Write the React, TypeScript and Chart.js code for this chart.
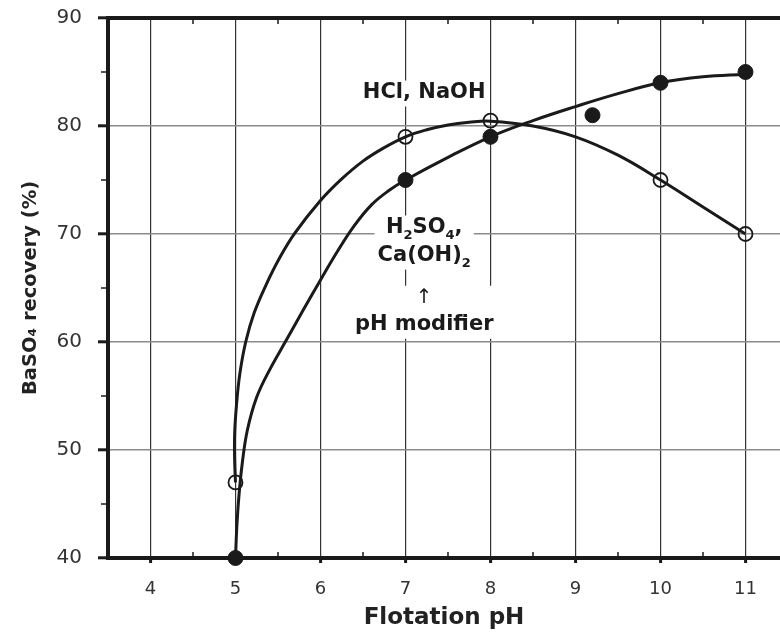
import React, { useEffect, useRef } from 'react';
import { Chart, registerables } from 'chart.js';

Chart.register(...registerables);

// ---- data ----
const xTickValues = [4, 5, 6, 7, 8, 9, 10, 11];
const yTickValues = [40, 50, 60, 70, 80, 90];
const xMinorTicks = [4.5, 5.5, 6.5, 7.5, 8.5, 9.5, 10.5];
const yMinorTicks = [45, 55, 65, 75, 85];

// HCl, NaOH (open circles)
const hclPh = [5, 7, 8, 10, 11];
const hclRecovery = [47, 79, 80.5, 75, 70];
// H2SO4, Ca(OH)2 (filled circles)
const h2so4Ph = [5, 7, 8, 9.2, 10, 11];
const h2so4Recovery = [40, 75, 79, 81, 84, 85];

// hand-drawn fitted curves
const hclCurvePh = [5.0, 4.99, 4.99, 5.01, 5.05, 5.12, 5.22, 5.36, 5.52, 5.7, 6.0, 6.25, 6.5, 6.75, 7.0, 7.25, 7.5, 7.75, 8.0, 8.5, 9.0, 9.5, 10.0, 10.5, 11.0];
const hclCurveRecovery = [47.0, 49.0, 51.5, 54.0, 57.0, 60.0, 62.7, 65.3, 67.8, 70.1, 73.1, 75.1, 76.75, 78.0, 79.0, 79.65, 80.1, 80.35, 80.45, 80.0, 79.0, 77.3, 75.0, 72.5, 70.0];
const h2so4CurvePh = [5.0, 5.015, 5.04, 5.08, 5.14, 5.25, 5.4, 5.6, 5.8, 6.0, 6.2, 6.4, 6.6, 6.8, 7.0, 7.5, 8.0, 8.5, 9.0, 9.5, 10.0, 10.5, 11.0];
const h2so4CurveRecovery = [40.0, 42.8, 45.7, 48.8, 51.85, 54.9, 57.4, 60.2, 63.0, 65.74, 68.4, 70.8, 72.7, 74.0, 75.0, 77.1, 79.0, 80.5, 81.8, 83.0, 84.0, 84.55, 84.8];

const xLabel = 'Flotation pH';
const yLabel = 'BaSO\u2084 recovery (%)';

const FONT = '"DejaVu Sans", "Liberation Sans", Arial, sans-serif';
const INK = '#1a1a1a';

const pts = (xs: number[], ys: number[]) => xs.map((x, i) => ({ x, y: ys[i] }));

type Seg = { t: string; sub?: boolean };

function fontsFor(size: number, bold: boolean) {
  return {
    main: `${bold ? 'bold ' : ''}${size}px ${FONT}`,
    small: `${bold ? 'bold ' : ''}${Math.round(size * 0.6)}px ${FONT}`,
  };
}

function richWidth(ctx: CanvasRenderingContext2D, segs: Seg[], size: number, bold: boolean) {
  const f = fontsFor(size, bold);
  let w = 0;
  for (const s of segs) {
    ctx.font = s.sub ? f.small : f.main;
    w += ctx.measureText(s.t).width;
  }
  return w;
}

function drawRich(ctx: CanvasRenderingContext2D, segs: Seg[], cx: number, cy: number, size: number, bold: boolean) {
  const f = fontsFor(size, bold);
  const w = richWidth(ctx, segs, size, bold);
  let x = cx - w / 2;
  ctx.textBaseline = 'middle';
  ctx.textAlign = 'left';
  for (const s of segs) {
    ctx.font = s.sub ? f.small : f.main;
    ctx.fillText(s.t, x, s.sub ? cy + size * 0.4 : cy);
    x += ctx.measureText(s.t).width;
  }
}

const decorPlugin = {
  id: 'decor',
  beforeDatasetsDraw(chart: any) {
    const { ctx, chartArea, scales } = chart;
    const xs = scales.x;
    const ys = scales.y;
    ctx.save();

    // top frame line
    ctx.strokeStyle = INK;
    ctx.lineWidth = 4;
    ctx.beginPath();
    ctx.moveTo(chartArea.left, chartArea.top);
    ctx.lineTo(chartArea.right, chartArea.top);
    ctx.stroke();

    // minor ticks
    ctx.lineWidth = 1.5;
    for (const v of xMinorTicks) {
      const px = xs.getPixelForValue(v);
      ctx.beginPath();
      ctx.moveTo(px, chartArea.bottom);
      ctx.lineTo(px, chartArea.bottom - 6);
      ctx.moveTo(px, chartArea.top);
      ctx.lineTo(px, chartArea.top + 6);
      ctx.stroke();
    }
    for (const v of yMinorTicks) {
      const py = ys.getPixelForValue(v);
      ctx.beginPath();
      ctx.moveTo(chartArea.left - 2, py);
      ctx.lineTo(chartArea.left - 7, py);
      ctx.stroke();
    }

    // annotations with white backing
    const cx = xs.getPixelForValue(7.22);
    const groups: { lines: { segs: Seg[]; y: number; bold: boolean; size: number }[] }[] = [
      { lines: [{ segs: [{ t: 'HCl, NaOH' }], y: 83.1, bold: true, size: 21 }] },
      {
        lines: [
          { segs: [{ t: 'H' }, { t: '2', sub: true }, { t: 'SO' }, { t: '4', sub: true }, { t: ',' }], y: 70.6, bold: true, size: 21 },
          { segs: [{ t: 'Ca(OH)' }, { t: '2', sub: true }], y: 68.0, bold: true, size: 21 },
        ],
      },
      {
        lines: [
          { segs: [{ t: '\u2191' }], y: 64.1, bold: false, size: 20 },
          { segs: [{ t: 'pH modifier' }], y: 61.6, bold: true, size: 21 },
        ],
      },
    ];

    for (const g of groups) {
      let maxW = 0;
      for (const l of g.lines) maxW = Math.max(maxW, richWidth(ctx, l.segs, l.size, l.bold));
      const top = ys.getPixelForValue(g.lines[0].y) - 12;
      const bottom = ys.getPixelForValue(g.lines[g.lines.length - 1].y) + 14;
      ctx.fillStyle = '#ffffff';
      ctx.fillRect(cx - maxW / 2 - 3, top, maxW + 6, bottom - top);
      ctx.fillStyle = INK;
      for (const l of g.lines) {
        drawRich(ctx, l.segs, cx, ys.getPixelForValue(l.y), l.size, l.bold);
      }
    }
    ctx.restore();
  },
};

export default function App() {
  const canvasRef = useRef<HTMLCanvasElement | null>(null);

  useEffect(() => {
    const canvas = canvasRef.current;
    if (!canvas) return;
    const chart = new Chart(canvas, {
      type: 'scatter',
      data: {
        datasets: [
          {
            label: 'HCl, NaOH',
            data: pts(hclPh, hclRecovery),
            pointStyle: 'circle',
            pointRadius: 7,
            pointBorderWidth: 1.8,
            pointBackgroundColor: 'rgba(0,0,0,0)',
            pointBorderColor: INK,
            showLine: false,
            clip: false,
          } as any,
          {
            label: 'H2SO4, Ca(OH)2',
            data: pts(h2so4Ph, h2so4Recovery),
            pointStyle: 'circle',
            pointRadius: 7.5,
            pointBorderWidth: 1,
            pointBackgroundColor: INK,
            pointBorderColor: INK,
            showLine: false,
            clip: false,
          } as any,
          {
            label: 'HCl curve',
            data: pts(hclCurvePh, hclCurveRecovery),
            showLine: true,
            pointRadius: 0,
            borderColor: INK,
            borderWidth: 3,
            tension: 0.4,
            fill: false,
          } as any,
          {
            label: 'H2SO4 curve',
            data: pts(h2so4CurvePh, h2so4CurveRecovery),
            showLine: true,
            pointRadius: 0,
            borderColor: INK,
            borderWidth: 3,
            tension: 0.4,
            fill: false,
          } as any,
        ],
      },
      options: {
        animation: false,
        responsive: false,
        devicePixelRatio: 1,
        layout: { autoPadding: false, padding: { top: 18, left: 0, right: 0, bottom: 0 } },
        plugins: {
          legend: { display: false },
          tooltip: { enabled: false },
        },
        scales: {
          x: {
            type: 'linear',
            min: 3.5,
            max: 11.406,
            afterBuildTicks: (s: any) => {
              s.ticks = xTickValues.map((v) => ({ value: v }));
            },
            afterFit: (s: any) => {
              s.height = 74;
              s.paddingLeft = 0;
              s.paddingRight = 0;
            },
            grid: {
              color: '#333',
              lineWidth: 1.2,
              tickColor: INK,
              tickLength: 5,
              tickWidth: 3,
            },
            border: { display: true, color: INK, width: 4 },
            ticks: {
              color: '#333',
              font: { family: FONT, size: 18 },
              padding: 16,
              maxRotation: 0,
              autoSkip: false,
            },
            title: {
              display: true,
              text: xLabel,
              color: '#222',
              font: { family: FONT, size: 23, weight: 'bold' },
              padding: { top: 0, bottom: 0 },
            },
          },
          y: {
            type: 'linear',
            min: 40,
            max: 90,
            afterBuildTicks: (s: any) => {
              s.ticks = yTickValues.map((v) => ({ value: v }));
            },
            afterFit: (s: any) => {
              s.width = 108;
              s.paddingTop = 0;
              s.paddingBottom = 0;
            },
            grid: {
              color: (c: any) => (c.tick && (c.tick.value === 40 || c.tick.value === 90) ? 'rgba(0,0,0,0)' : '#8c8c8c'),
              lineWidth: 1.6,
              tickColor: INK,
              tickLength: 10,
              tickWidth: 3,
            },
            border: { display: true, color: INK, width: 4 },
            ticks: {
              color: '#333',
              font: { family: FONT, size: 20 },
              padding: 16,
            },
            title: {
              display: true,
              text: yLabel,
              color: '#222',
              font: { family: FONT, size: 19.5, weight: 'bold' },
              padding: { top: 19, bottom: 0 },
            },
          },
        },
      } as any,
      plugins: [decorPlugin],
    });
    return () => chart.destroy();
  }, []);

  return (
    <div style={{ position: 'absolute', left: 0, top: 0, width: 780, height: 632, background: '#fff' }}>
      <canvas ref={canvasRef} width={780} height={632} style={{ display: 'block' }} />
    </div>
  );
}
